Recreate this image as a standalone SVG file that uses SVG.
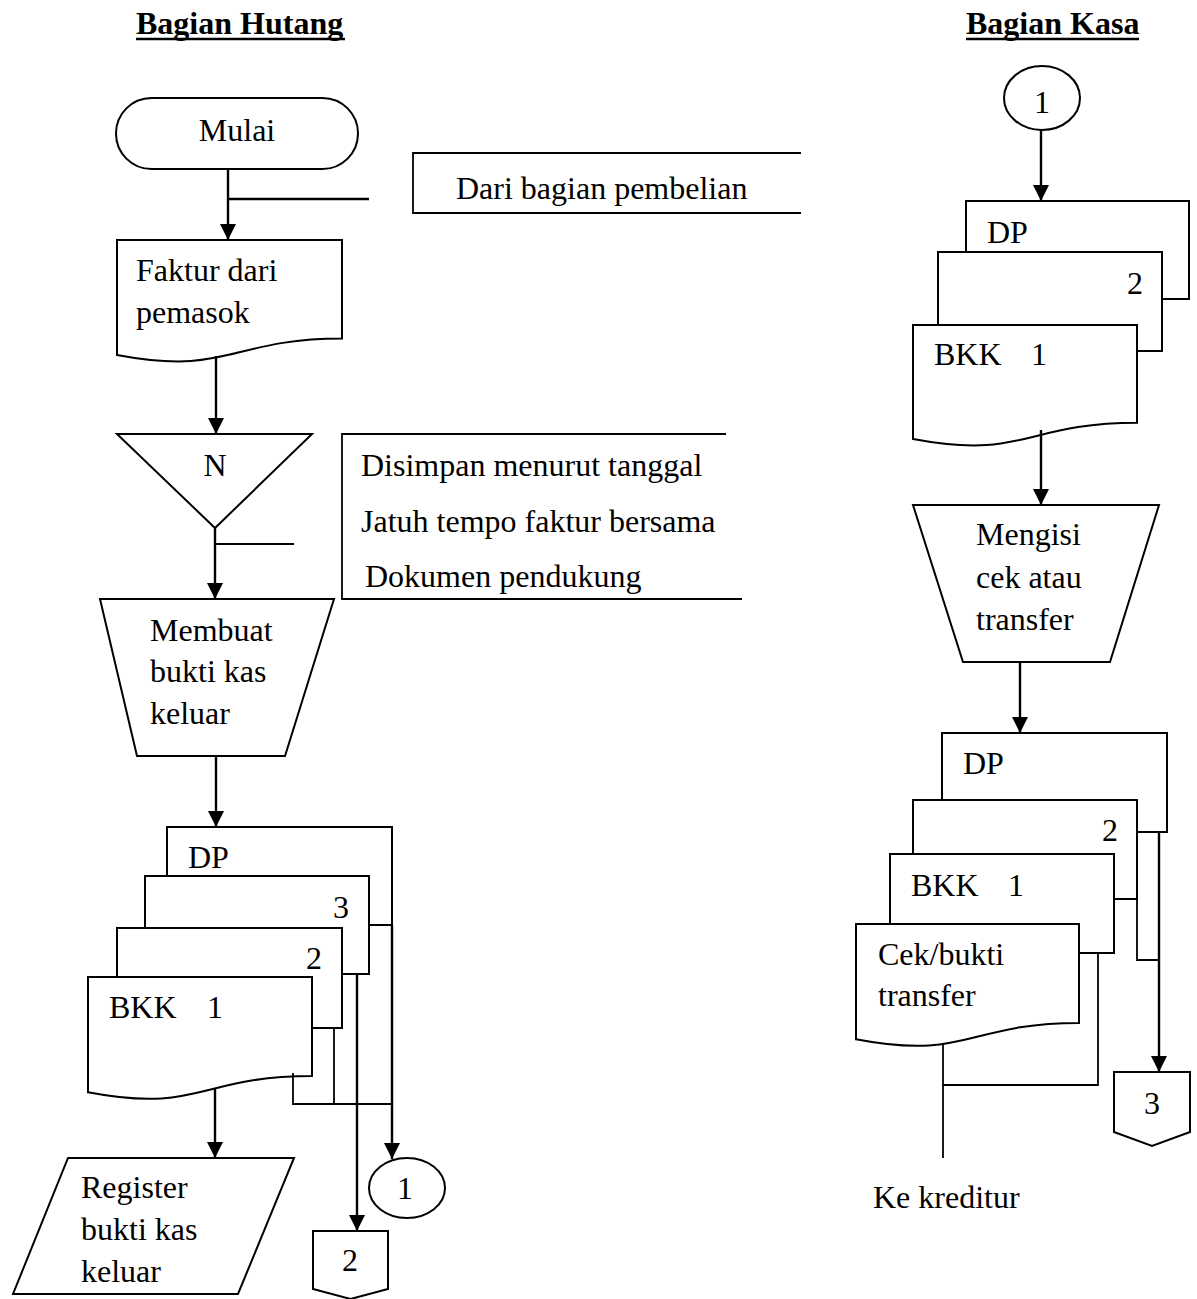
<svg xmlns="http://www.w3.org/2000/svg" width="1197" height="1299" viewBox="0 0 1197 1299">
<style>
.s{fill:#fff;stroke:#000;stroke-width:2}
.c{fill:none;stroke:#000;stroke-width:2.4}
.a{fill:none;stroke:#000;stroke-width:1.8}
.t{font-family:"Liberation Serif","Times New Roman",serif;font-size:32px;fill:#000}
.h{font-family:"Liberation Serif","Times New Roman",serif;font-size:32px;font-weight:bold;fill:#000}
.m{text-anchor:middle}
</style>
<defs>
<marker id="arr" markerUnits="userSpaceOnUse" markerWidth="16" markerHeight="16" viewBox="0 0 16 16" refX="16" refY="8" orient="auto">
<path d="M0,0 L16,8 L0,16 z" fill="#000"/>
</marker>
</defs>
<rect width="1197" height="1299" fill="#fff"/>

<g id="title-hutang">
<text class="h" x="136" y="34">Bagian Hutang</text>
<line x1="136" y1="39" x2="345" y2="39" stroke="#000" stroke-width="2.5"/>
</g>
<g id="title-kasa">
<text class="h" x="966" y="34">Bagian Kasa</text>
<line x1="966" y1="39" x2="1139" y2="39" stroke="#000" stroke-width="2.5"/>
</g>

<!-- Left column -->
<g id="mulai">
<rect class="s" x="116" y="98" width="242" height="71" rx="35.5"/>
<text class="t m" x="237" y="141">Mulai</text>
</g>
<g id="note-pembelian">
<path class="a" d="M801,153 H413 V213 H801"/>
<text class="t" x="456" y="199">Dari bagian pembelian</text>
</g>
<g id="faktur">
<path class="s" d="M117,240 H342 V338.6 C229.5,338.6 229.5,376.2 117,354.9 Z"/>
<text class="t" x="136" y="281">Faktur dari</text>
<text class="t" x="136" y="323">pemasok</text>
</g>
<g id="arsip-n">
<path class="s" d="M117,434 H312 L215,528 Z"/>
<text class="t m" x="215" y="476">N</text>
</g>
<g id="note-simpan">
<path class="a" d="M726,434 H342 V599 H742"/>
<text class="t" x="361" y="476">Disimpan menurut tanggal</text>
<text class="t" x="361" y="532">Jatuh tempo faktur bersama</text>
<text class="t" x="365" y="587">Dokumen pendukung</text>
</g>
<g id="membuat-bkk">
<path class="s" d="M100,599 H334 L285,756 H137 Z"/>
<text class="t" x="150" y="641">Membuat</text>
<text class="t" x="150" y="682">bukti kas</text>
<text class="t" x="150" y="724">keluar</text>
</g>
<g id="dokumen-bkk-kiri">
<rect class="s" x="167" y="827" width="225" height="98"/>
<text class="t" x="188" y="868">DP</text>
<rect class="s" x="145" y="876" width="224" height="98"/>
<text class="t" x="333" y="918">3</text>
<rect class="s" x="117" y="928" width="225" height="100"/>
<text class="t" x="306" y="969">2</text>
<path class="s" d="M88,977 H312 V1076 C200,1076 200,1113.7 88,1092.3 Z"/>
<text class="t" x="109" y="1018">BKK</text>
<text class="t" x="207" y="1018">1</text>
</g>
<g id="register-bkk">
<path class="s" d="M68,1158 H294 L238,1294 H13 Z"/>
<text class="t" x="81" y="1198">Register</text>
<text class="t" x="81" y="1240">bukti kas</text>
<text class="t" x="81" y="1282">keluar</text>
</g>
<g id="konektor-1-kiri">
<ellipse class="s" cx="407" cy="1188" rx="38" ry="30"/>
<text class="t m" x="405" y="1199">1</text>
</g>
<g id="offpage-2">
<path class="s" d="M313,1231 H388 V1289 L350.5,1299 L313,1289 Z"/>
<text class="t m" x="350" y="1271">2</text>
</g>

<!-- Right column -->
<g id="konektor-1-kanan">
<ellipse class="s" cx="1042" cy="98" rx="38" ry="32"/>
<text class="t m" x="1042" y="113">1</text>
</g>
<g id="dokumen-bkk-kanan-atas">
<rect class="s" x="966" y="201" width="223" height="98"/>
<text class="t" x="987" y="243">DP</text>
<rect class="s" x="938" y="252" width="224" height="99"/>
<text class="t" x="1127" y="294">2</text>
<path class="s" d="M913,325 H1137 V422.8 C1025,422.8 1025,460.1 913,439 Z"/>
<text class="t" x="934" y="365">BKK</text>
<text class="t" x="1031" y="365">1</text>
</g>
<g id="mengisi-cek">
<path class="s" d="M913,505 H1159 L1110,662 H963 Z"/>
<text class="t" x="976" y="545">Mengisi</text>
<text class="t" x="976" y="588">cek atau</text>
<text class="t" x="976" y="630">transfer</text>
</g>
<g id="dokumen-kanan-bawah">
<rect class="s" x="942" y="733" width="225" height="99"/>
<text class="t" x="963" y="774">DP</text>
<rect class="s" x="913" y="800" width="224" height="99"/>
<text class="t" x="1102" y="841">2</text>
<rect class="s" x="890" y="854" width="224" height="99"/>
<text class="t" x="911" y="896">BKK</text>
<text class="t" x="1008" y="896">1</text>
<path class="s" d="M856,924 H1079 V1023 C967.5,1023 967.5,1060.7 856,1039.3 Z"/>
<text class="t" x="878" y="965">Cek/bukti</text>
<text class="t" x="878" y="1006">transfer</text>
</g>
<g id="offpage-3">
<path class="s" d="M1114,1072 H1190 V1132 L1152,1146 L1114,1132 Z"/>
<text class="t m" x="1152" y="1114">3</text>
</g>
<g id="ke-kreditur">
<text class="t" x="873" y="1208">Ke kreditur</text>
</g>

<g id="connectors">
<line class="c" x1="228" y1="169" x2="228" y2="240" marker-end="url(#arr)"/>
<line class="c" x1="228" y1="199" x2="369" y2="199"/>
<line class="c" x1="216" y1="356" x2="216" y2="434" marker-end="url(#arr)"/>
<line class="c" x1="215" y1="528" x2="215" y2="599" marker-end="url(#arr)"/>
<line class="a" x1="215" y1="544" x2="294" y2="544"/>
<line class="c" x1="216" y1="756" x2="216" y2="827" marker-end="url(#arr)"/>
<line class="c" x1="215" y1="1088" x2="215" y2="1158" marker-end="url(#arr)"/>
<path class="a" d="M293,1073 V1104 H392"/>
<line class="a" x1="334" y1="1028" x2="334" y2="1104"/>
<line class="c" x1="357" y1="974" x2="357" y2="1231" marker-end="url(#arr)"/>
<line class="c" x1="392" y1="925" x2="392" y2="1159" marker-end="url(#arr)"/>

<line class="c" x1="1041" y1="130" x2="1041" y2="201" marker-end="url(#arr)"/>
<line class="c" x1="1041" y1="430" x2="1041" y2="505" marker-end="url(#arr)"/>
<line class="c" x1="1020" y1="662" x2="1020" y2="733" marker-end="url(#arr)"/>
<line class="c" x1="1159" y1="832" x2="1159" y2="1072" marker-end="url(#arr)"/>
<path class="a" d="M1137,899 V960 H1159"/>
<path class="a" d="M1098,953 V1085 H943"/>
<line class="a" x1="943" y1="1043" x2="943" y2="1158"/>
</g>
</svg>
